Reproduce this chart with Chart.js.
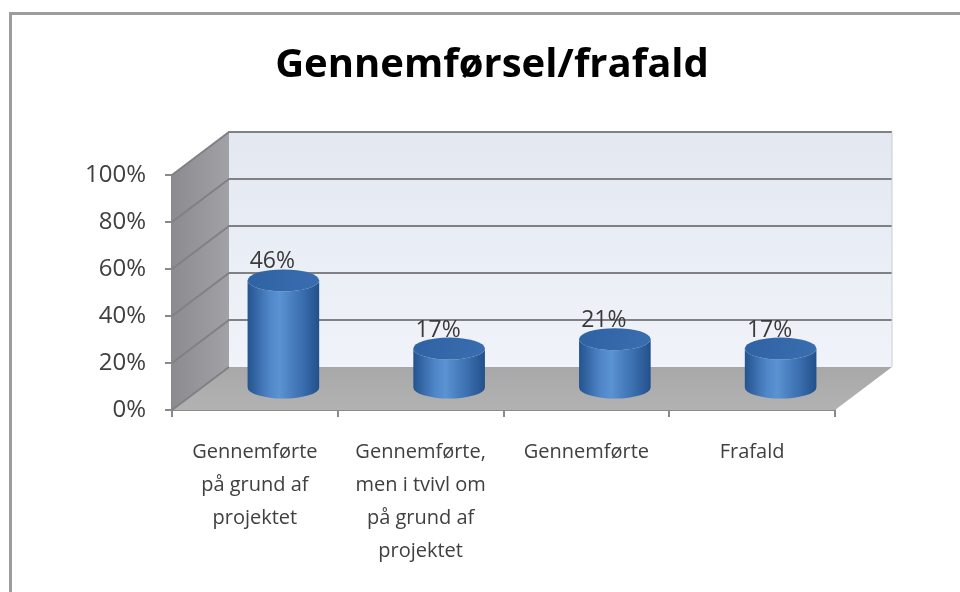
<!DOCTYPE html>
<html>
<head>
<meta charset="utf-8">
<script src="https://cdn.jsdelivr.net/npm/chart.js@4"></script>
<style>
  html, body { margin: 0; padding: 0; background: #fff; }
  #wrap { width: 960px; height: 592px; }
</style>
</head>
<body>
<div id="wrap"><canvas id="chart"></canvas></div>
<script>
const categories = [
  ["Gennemførte", "på grund af", "projektet"],
  ["Gennemførte,", "men i tvivl om", "på grund af", "projektet"],
  ["Gennemførte"],
  ["Frafald"]
];
const shares = [46, 17, 21, 17];
const yTicks = [0, 20, 40, 60, 80, 100];

const FONT = '"Open Sans", Lato, sans-serif';
// depth offset of the 3D box (back wall relative to front plane)
const DX = 57, DY = -43;

const frame = {
  id: 'frame',
  beforeDraw(chart) {
    const ctx = chart.ctx;
    ctx.save();
    ctx.strokeStyle = '#9c9c9c';
    ctx.lineWidth = 3;
    ctx.beginPath();
    ctx.moveTo(10.5, 592);
    ctx.lineTo(10.5, 13.5);
    ctx.lineTo(960, 13.5);
    ctx.stroke();
    ctx.restore();
  }
};

const box3d = {
  id: 'box3d',
  beforeDatasetsDraw(chart) {
    const { ctx, chartArea: a, scales: { y } } = chart;
    ctx.save();
    // back wall
    let g = ctx.createLinearGradient(0, a.top + DY, 0, a.bottom + DY);
    g.addColorStop(0, '#e3e8f1');
    g.addColorStop(1, '#f0f3f9');
    ctx.fillStyle = g;
    ctx.fillRect(a.left + DX, a.top + DY, a.right - a.left, a.bottom - a.top);
    // left wall
    g = ctx.createLinearGradient(a.left, 0, a.left + DX, 0);
    g.addColorStop(0, '#8b8b90');
    g.addColorStop(1, '#a2a2a6');
    ctx.fillStyle = g;
    ctx.beginPath();
    ctx.moveTo(a.left, a.top);
    ctx.lineTo(a.left + DX, a.top + DY);
    ctx.lineTo(a.left + DX, a.bottom + DY);
    ctx.lineTo(a.left, a.bottom);
    ctx.closePath();
    ctx.fill();
    // floor
    g = ctx.createLinearGradient(0, a.bottom + DY, 0, a.bottom);
    g.addColorStop(0, '#a8a8a8');
    g.addColorStop(1, '#b2b2b2');
    ctx.fillStyle = g;
    ctx.beginPath();
    ctx.moveTo(a.left, a.bottom);
    ctx.lineTo(a.right, a.bottom);
    ctx.lineTo(a.right + DX, a.bottom + DY);
    ctx.lineTo(a.left + DX, a.bottom + DY);
    ctx.closePath();
    ctx.fill();
    // grid lines on walls
    ctx.strokeStyle = '#808085';
    ctx.lineWidth = 2;
    yTicks.forEach(v => {
      const py = y.getPixelForValue(v);
      ctx.beginPath();
      ctx.moveTo(a.left, py);
      ctx.lineTo(a.left + DX, py + DY);
      if (v > 0) ctx.lineTo(a.right + DX, py + DY);
      ctx.stroke();
    });
    // right edge of back wall
    ctx.strokeStyle = '#c8ccd4';
    ctx.lineWidth = 1;
    ctx.beginPath();
    ctx.moveTo(a.right + DX, a.top + DY);
    ctx.lineTo(a.right + DX, a.bottom + DY);
    ctx.stroke();
    ctx.restore();
  },
  afterDatasetsDraw(chart) {
    const ctx = chart.ctx;
    const meta = chart.getDatasetMeta(0);
    ctx.save();
    meta.data.forEach((bar, i) => {
      const p = bar.getProps(['x', 'y', 'base', 'width'], true);
      const cx = p.x + DX / 2;
      const top = p.y + DY / 2;
      const bot = p.base + DY / 2;
      const rx = p.width / 2;
      const ry = 11;
      // body
      let g = ctx.createLinearGradient(cx - rx, 0, cx + rx, 0);
      g.addColorStop(0, '#24538f');
      g.addColorStop(0.3, '#4f86c8');
      g.addColorStop(0.45, '#5a92d2');
      g.addColorStop(0.75, '#3c70b0');
      g.addColorStop(1, '#23508a');
      ctx.fillStyle = g;
      ctx.beginPath();
      ctx.moveTo(cx - rx, top);
      ctx.lineTo(cx - rx, bot);
      ctx.ellipse(cx, bot, rx, ry, 0, Math.PI, 0, true);
      ctx.lineTo(cx + rx, top);
      ctx.ellipse(cx, top, rx, ry, 0, 0, Math.PI, false);
      ctx.closePath();
      ctx.fill();
      // top cap
      g = ctx.createLinearGradient(cx - rx, top - ry, cx + rx, top + ry);
      g.addColorStop(0, '#2f62a3');
      g.addColorStop(1, '#3a6eb0');
      ctx.fillStyle = g;
      ctx.beginPath();
      ctx.ellipse(cx, top, rx, ry, 0, 0, Math.PI * 2);
      ctx.fill();
      // value label
      ctx.fillStyle = '#3a3a3a';
      ctx.font = '23px ' + FONT;
      ctx.textAlign = 'center';
      ctx.textBaseline = 'alphabetic';
      ctx.fillText(shares[i] + '%', cx - 11, top - ry - 1);
    });
    ctx.restore();
  }
};

new Chart(document.getElementById('chart'), {
  type: 'bar',
  data: {
    labels: categories,
    datasets: [{
      data: shares,
      backgroundColor: 'rgba(0,0,0,0)',
      borderWidth: 0,
      categoryPercentage: 0.9,
      barPercentage: 0.48
    }]
  },
  options: {
    responsive: true,
    maintainAspectRatio: false,
    animation: false,
    layout: { padding: { left: 30, right: 6, top: 0, bottom: 0 } },
    plugins: {
      legend: { display: false },
      tooltip: { enabled: false },
      title: {
        display: true,
        text: 'Gennemførsel/frafald',
        color: '#000',
        font: { family: FONT, size: 40, weight: 'bold', lineHeight: 1.2 },
        padding: { top: 42, bottom: 85 }
      }
    },
    scales: {
      x: {
        afterFit: s => { s.height = 182; },
        grid: {
          offset: true,
          drawOnChartArea: false,
          tickLength: 7,
          color: '#8a8a8a',
          lineWidth: 2
        },
        border: { color: '#8a8a8a', width: 2 },
        ticks: {
          color: '#404040',
          padding: 19,
          maxRotation: 0,
          font: { family: FONT, size: 20, lineHeight: 1.65 }
        }
      },
      y: {
        min: 0,
        max: 100,
        afterFit: s => { s.width = 142; },
        afterBuildTicks: s => { s.ticks = yTicks.map(v => ({ value: v })); },
        grid: {
          drawOnChartArea: false,
          tickLength: 7,
          color: '#8a8a8a',
          lineWidth: 2
        },
        border: { color: '#8a8a8a', width: 2 },
        ticks: {
          color: '#404040',
          padding: 19,
          font: { family: FONT, size: 24 },
          callback: v => v + '%'
        }
      },
      // empty right-hand axis that reserves the space right of the box
      side: {
        position: 'right',
        afterFit: s => { s.width = 119; },
        grid: { display: false },
        border: { display: false },
        ticks: { display: false }
      }
    }
  },
  plugins: [frame, box3d]
});
</script>
</body>
</html>
